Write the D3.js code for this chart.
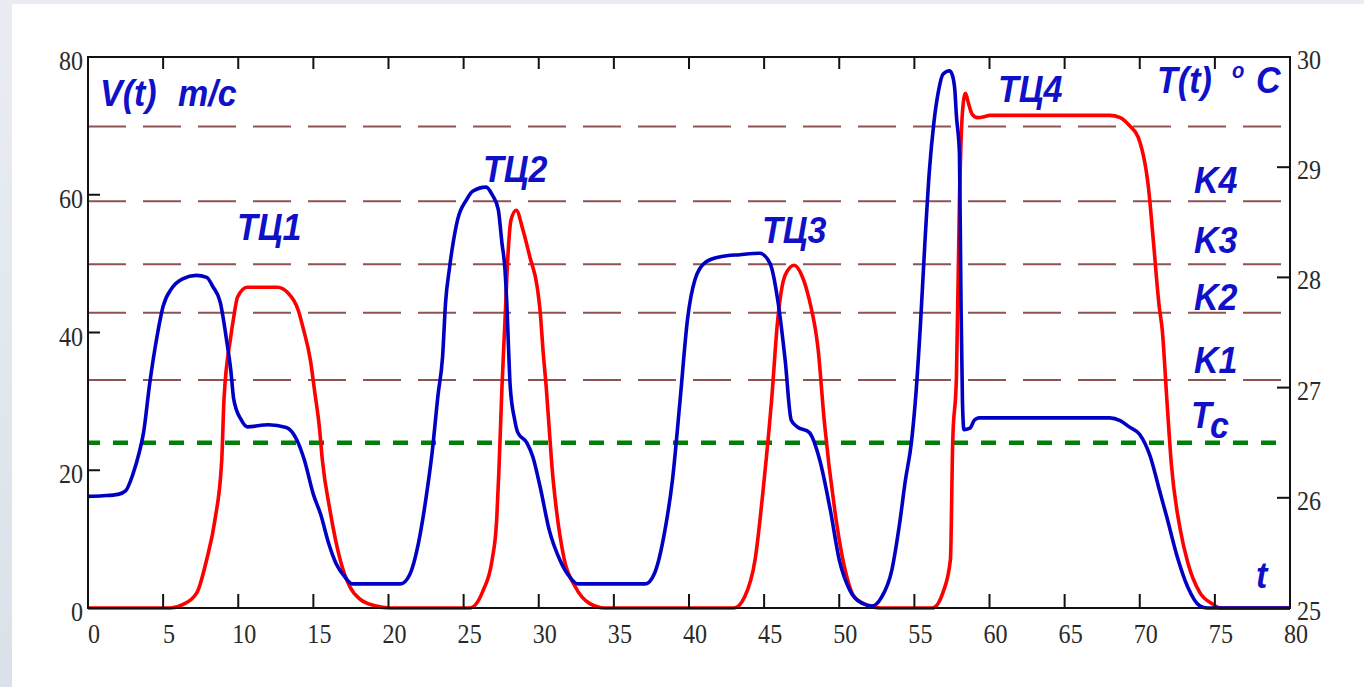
<!DOCTYPE html>
<html>
<head>
<meta charset="utf-8">
<script src="https://cdn.jsdelivr.net/npm/d3@7"></script>
<style>
  html, body { margin: 0; padding: 0; background: #e6eaf0; }
  svg { display: block; }
</style>
</head>
<body>
<svg width="1364" height="687"></svg>
<script>
// velocity V(t), m/c  (blue, left axis)
const vT = [0, 1, 2, 2.5, 3.0, 3.4, 3.7, 4.1, 4.6, 5.0, 5.6, 6.3, 7.2, 7.9, 8.3, 8.8, 9.25, 9.5, 9.7, 10.2, 10.6, 12.0, 13.2, 13.9, 14.4, 15.0, 15.5, 16.0, 16.5, 17.1, 17.6,
  20.8, 21.4, 22.0, 22.5, 22.9, 23.3, 23.6, 23.8, 24.05, 24.3, 24.6, 25.2, 25.6, 26.5, 26.9, 27.3, 27.55, 27.75, 27.9, 28.0, 28.1, 28.4, 28.6, 29.2, 29.6, 30.1, 30.7, 31.4, 32.1, 32.6,
  37.1, 37.7, 38.4, 38.9, 39.4, 39.9, 40.4, 41.1, 42.1, 43.4, 44.7, 45.4, 45.9, 46.4, 46.8, 47.2, 48.0, 48.7, 49.4, 50.0, 50.7, 51.5, 52.2, 52.8, 53.5,
  54.0, 54.4, 54.8, 55.1, 55.4, 55.7, 56.0, 56.3, 56.6, 56.9, 57.35, 57.55, 57.7, 57.8, 58.0, 58.1, 58.2, 58.3, 58.7, 59.0, 59.3, 68.0, 68.7, 69.3, 70.0, 70.7, 71.3, 71.8, 72.5, 73.2, 74.0, 74.5, 80];
const vVal = [16.2, 16.3, 16.5, 17.0, 19.5, 22.5, 25.5, 32.5, 39.5, 43.8, 46.5, 47.8, 48.3, 48.0, 46.7, 44.4, 38.5, 34.6, 30.3, 27.3, 26.3, 26.6, 26.2, 24.4, 21.5, 16.5, 13.5, 9.5, 6.5, 4.5, 3.5,
  3.5, 4.8, 9.5, 16, 22.5, 31, 36.5, 44.4, 49.2, 53, 56.4, 59.3, 60.5, 61.1, 60, 57.9, 53, 49.2, 42.9, 37.1, 32.2, 27.3, 25.5, 24, 22, 17.5, 11.3, 7, 4.4, 3.5,
  3.5, 5, 11.3, 18.6, 30, 41.9, 47.7, 50.2, 51, 51.3, 51.5, 50, 44.8, 36, 27.3, 26.3, 25.5, 21.5, 14.3, 7, 2.6, 0.7, 0.3, 1.5, 5.5,
  12, 18.5, 24, 31, 41, 53, 63.5, 70.5, 75, 77.5, 78, 77.2, 75, 71.4, 66, 45, 30, 25.9, 26.1, 27.3, 27.6, 27.6, 27.2, 26.3, 25.2, 22, 17.2, 13.2, 7.4, 3, 0.3, 0, 0];

// temperature T(t), deg C  (red, right axis)
const tT = [0, 5.5, 6.3, 7.25, 7.9, 8.45, 8.9, 9.05, 9.5, 9.7, 9.95, 10.6, 12.6, 13.3, 14.0, 14.3, 14.8, 15.1, 15.4, 15.6, 16.1, 16.8, 17.4, 18.1, 19.1, 20.1,
  25.4, 26.3, 26.9, 27.2, 27.35, 27.55, 27.75, 27.95, 28.15, 28.5, 28.95, 29.4, 29.9, 30.1, 30.3, 30.5, 30.7, 30.9, 31.1, 31.7, 32.4, 33.4, 34.4,
  43.0, 43.7, 44.4, 45.0, 45.5, 45.9, 46.4, 47.0, 47.5, 48.0, 48.6, 49.0, 49.7, 50.4, 51.0, 52.0, 52.7,
  56.2, 56.9, 57.4, 57.55, 57.8, 58.0, 58.2, 58.4, 58.6, 58.85, 59.2, 59.7, 60.0, 68.0, 68.7, 69.3, 69.9, 70.6, 70.9, 71.3, 71.5, 71.8, 72.1, 72.7, 73.2, 74.0, 74.8, 75.4, 80];
const tVal = [25, 25, 25.03, 25.14, 25.44, 25.8, 26.34, 26.89, 27.46, 27.64, 27.82, 27.91, 27.91, 27.86, 27.7, 27.55, 27.25, 26.95, 26.64, 26.34, 25.89, 25.43, 25.2, 25.08, 25.02, 25,
  25, 25.16, 25.44, 25.8, 26.25, 27.0, 27.6, 28.2, 28.52, 28.61, 28.43, 28.19, 27.91, 27.68, 27.31, 27.0, 26.62, 26.25, 25.98, 25.44, 25.2, 25.04, 25,
  25, 25.1, 25.44, 26.16, 26.89, 27.61, 28.02, 28.11, 28.02, 27.8, 27.34, 26.7, 25.89, 25.34, 25.1, 25.02, 25,
  25, 25.14, 25.44, 26.5, 27.1, 28.7, 29.5, 29.67, 29.58, 29.48, 29.45, 29.46, 29.47, 29.47, 29.45, 29.38, 29.27, 28.79, 28.34, 27.73, 27.52, 26.9, 26.31, 25.71, 25.41, 25.14, 25.04, 25, 25];

// critical levels K4..K1 and Tc (deg C)
const kLevels = [29.37, 28.69, 28.12, 27.68, 27.07];
const kNames = ["", "K4", "K3", "K2", "K1"];
const tcLevel = 26.5;

const xTicks = [0, 5, 10, 15, 20, 25, 30, 35, 40, 45, 50, 55, 60, 65, 70, 75, 80];
const vTicks = [0, 20, 40, 60, 80];
const tempTicks = [25, 26, 27, 28, 29, 30];
const cycles = ["ТЦ1", "ТЦ2", "ТЦ3", "ТЦ4"];

const svg = d3.select("svg");
const L = 88, R = 1290, T = 57, B = 608;

const x = d3.scaleLinear().domain([0, 80]).range([L, R]);
const yV = d3.scaleLinear().domain([0, 80]).range([B, T]);
const yT = d3.scaleLinear().domain([25, 30]).range([B, T]);

// background
const grad = svg.append("defs").append("linearGradient")
  .attr("id", "bg").attr("x1", 0).attr("y1", 0).attr("x2", 0).attr("y2", 1);
grad.append("stop").attr("offset", 0).attr("stop-color", "#e9edf3");
grad.append("stop").attr("offset", 1).attr("stop-color", "#dce1e9");
svg.append("rect").attr("width", 1364).attr("height", 687).attr("fill", "url(#bg)");
svg.append("rect").attr("x", 12).attr("y", 4).attr("width", 1352).attr("height", 683).attr("fill", "#fff");

// dashed levels
svg.append("g").selectAll("line").data(kLevels).enter().append("line")
  .attr("x1", L).attr("x2", R)
  .attr("y1", d => yT(d)).attr("y2", d => yT(d))
  .attr("stroke", "#8e5252").attr("stroke-width", 2)
  .attr("stroke-dasharray", "38,17");

svg.append("line")
  .attr("x1", L).attr("x2", R)
  .attr("y1", yT(tcLevel)).attr("y2", yT(tcLevel))
  .attr("stroke", "#00800a").attr("stroke-width", 4.5)
  .attr("stroke-dasharray", "15,13").attr("stroke-dashoffset", 3);

// curves
const lineT = d3.line().x(d => x(d[0])).y(d => yT(d[1])).curve(d3.curveMonotoneX);
const lineV = d3.line().x(d => x(d[0])).y(d => yV(d[1])).curve(d3.curveMonotoneX);

svg.append("path").datum(d3.zip(tT, tVal))
  .attr("d", lineT).attr("fill", "none")
  .attr("stroke", "#ff0000").attr("stroke-width", 3.6);

svg.append("path").datum(d3.zip(vT, vVal))
  .attr("d", lineV).attr("fill", "none")
  .attr("stroke", "#0000c4").attr("stroke-width", 3.6);

// frame
const ax = svg.append("g").attr("stroke", "#111").attr("stroke-width", 2);
ax.append("rect").attr("x", L).attr("y", T).attr("width", R - L).attr("height", B - T).attr("fill", "none");
ax.selectAll(".tb").data(xTicks.slice(1, -1)).enter().append("line")
  .attr("x1", d => x(d)).attr("x2", d => x(d)).attr("y1", B).attr("y2", B - 14);
ax.selectAll(".tt").data(xTicks.slice(1, -1)).enter().append("line")
  .attr("x1", d => x(d)).attr("x2", d => x(d)).attr("y1", T).attr("y2", T + 12);
ax.selectAll(".tl").data(vTicks.slice(1, -1)).enter().append("line")
  .attr("x1", L).attr("x2", L + 12).attr("y1", d => yV(d)).attr("y2", d => yV(d));
ax.selectAll(".tr").data(tempTicks.slice(1, -1)).enter().append("line")
  .attr("x1", R).attr("x2", R - 13).attr("y1", d => yT(d)).attr("y2", d => yT(d));

// tick labels
function num(g, data, px, py, anchor) {
  g.selectAll("text").data(data).enter().append("text")
    .attr("transform", d => `translate(${px(d)},${py(d)}) scale(0.86,1)`)
    .attr("text-anchor", anchor)
    .attr("font-family", "Liberation Serif, Times New Roman, serif")
    .attr("font-size", 28).attr("fill", "#2a2a2a")
    .text(d => d);
}
num(svg.append("g"), xTicks, d => x(d) + 6, () => B + 35, "middle");
num(svg.append("g"), vTicks, () => L - 5, d => yV(d) + 13, "end");
num(svg.append("g"), tempTicks, () => R + 7, d => yT(d) + 12, "start");

// blue annotations
function label(px, py, s, size) {
  return svg.append("text")
    .attr("transform", `translate(${px},${py}) scale(0.92,1)`)
    .attr("font-family", "Liberation Sans, Arial, sans-serif")
    .attr("font-weight", "bold").attr("font-style", "italic")
    .attr("font-size", size || 37).attr("fill", "#1010c8")
    .text(s);
}
label(100, 106, "V(t)");
label(178, 106, "m/c");
label(1157, 93, "T(t)");
label(1232, 78, "o", 22);
label(1256, 93, "C");

label(237, 240, cycles[0]);
label(483, 182, cycles[1]);
label(762, 243, cycles[2]);
label(998, 102, cycles[3]);

label(1194, 193, kNames[1]);
label(1194, 253, kNames[2]);
label(1194, 310, kNames[3]);
label(1194, 373, kNames[4]);
label(1191, 428, "T");
label(1210, 438, "c");
label(1256, 588, "t");
</script>
</body>
</html>
